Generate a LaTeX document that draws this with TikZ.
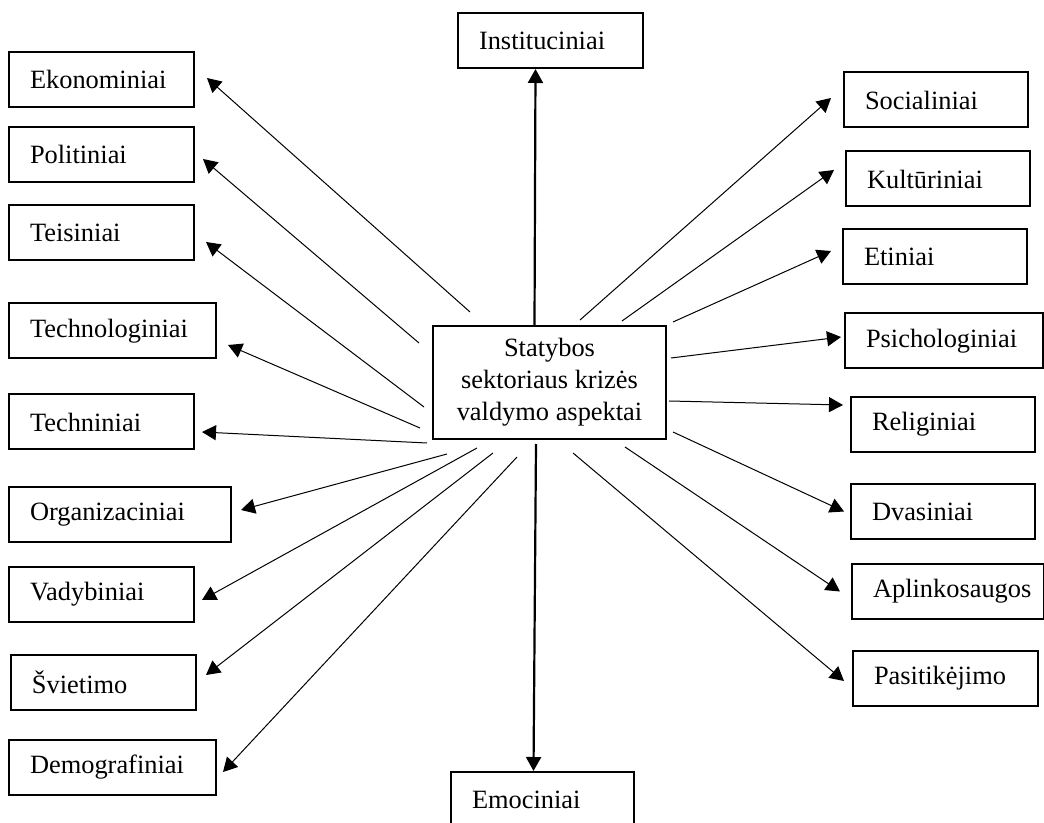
\documentclass[tikz,border=0pt]{standalone}
\usepackage{fontspec}
\setmainfont{Liberation Serif}
\usetikzlibrary{arrows.meta}

\begin{document}
\begin{tikzpicture}[x=0.5pt, y=-0.5pt,
    aspect/.style={draw, line width=1pt, anchor=west, minimum height=27.5pt, inner xsep=10.5pt, inner ysep=0pt,
        text width=#1, align=left, font=\fontsize{13.2}{16}\selectfont},
    link/.style={line width=0.5pt, -{Triangle[length=7pt,width=7.5pt]}},
    mainlink/.style={line width=1.1pt, -{Triangle[length=7pt,width=7.5pt]}}]
    \useasboundingbox (0,0) rectangle (1044,823);

    \node [draw, line width=1pt, minimum width=116.5pt, minimum height=56.5pt, align=center,
        font=\fontsize{13.2}{16}\selectfont] (hub) at (549.5,382.5) {Statybos\\sektoriaus krizės\\valdymo aspektai};

    % left column
    \node [aspect=71.5pt] (ekon) at (8,79.5) {Ekonominiai};
    \node [aspect=71.5pt] (polit) at (8,154.5) {Politiniai};
    \node [aspect=71.5pt] (teis) at (8,233) {Teisiniai};
    \node [aspect=82.5pt] (technol) at (8,331) {Technologiniai};
    \node [aspect=71.5pt] (techn) at (8,422) {Techniniai};
    \node [aspect=90pt] (organ) at (8,514.5) {Organizaciniai};
    \node [aspect=71.5pt] (vadyb) at (8,594.5) {Vadybiniai};
    \node [aspect=71.5pt] (sviet) at (10,682.5) {Švietimo};
    \node [aspect=82.5pt] (demogr) at (8,767.5) {Demografiniai};

    % right column
    \node [aspect=71pt] (social) at (843,100) {Socialiniai};
    \node [aspect=71pt] (kult) at (845,179) {Kultūriniai};
    \node [aspect=71pt] (etin) at (842,256.5) {Etiniai};
    \node [aspect=78pt] (psich) at (844,341) {Psichologiniai};
    \node [aspect=71pt] (relig) at (850,424.5) {Religiniai};
    \node [aspect=71pt] (dvas) at (850,511.5) {Dvasiniai};
    \node [aspect=75pt] (aplink) at (851,591.5) {Aplinkosaugos};
    \node [aspect=71.5pt] (pasit) at (852,678) {Pasitikėjimo};

    \node [aspect=71.5pt] (inst) at (457,40.5) {Instituciniai};
    \node [aspect=70.5pt] (emoc) at (450,799.5) {Emociniai};

    \draw [mainlink] ([xshift=-7.5]hub.north) -- ([xshift=-7.5]inst.south);
    \draw [mainlink] ([shift={(-13.5,4)}]hub.south) -- ([xshift=-4.5]emoc.north);

    \draw [link] ([shift={(-79.5,-13)}]hub.north) -- ([shift={(12,-1.5)}]ekon.east);
    \draw [link] ([shift={(-13,-39.5)}]hub.west) -- ([shift={(8,4.5)}]polit.east);
    \draw [link] ([shift={(-8,24.5)}]hub.west) -- ([shift={(11,9)}]teis.east);
    \draw [link] ([shift={(-12,45.5)}]hub.west) -- ([shift={(11,14)}]technol.east);
    \draw [link] ([shift={(-5,60.5)}]hub.west) -- ([shift={(7,10)}]techn.east);
    \draw [link] ([shift={(-102.5,14)}]hub.south) -- ([shift={(9,-4.5)}]organ.east);
    \draw [link] ([shift={(-72.5,8)}]hub.south) -- ([shift={(7,5.5)}]vadyb.east);
    \draw [link] ([shift={(-56.5,13)}]hub.south) -- ([shift={(9,-7.5)}]sviet.east);
    \draw [link] ([shift={(-32.5,17)}]hub.south) -- ([shift={(6,4.5)}]demogr.east);

    \draw [link] ([shift={(30.5,-5)}]hub.north) -- ([shift={(-12,-2)}]social.west);
    \draw [link] ([shift={(72.5,-4)}]hub.north) -- ([shift={(-11,-9)}]kult.west);
    \draw [link] ([shift={(6,-60.5)}]hub.east) -- ([shift={(-11,-5.5)}]etin.west);
    \draw [link] ([shift={(4,-24.5)}]hub.east) -- ([shift={(-3,-4)}]psich.west);
    \draw [link] ([shift={(2,18.5)}]hub.east) -- ([shift={(-7,-19.5)}]relig.west);
    \draw [link] ([shift={(6,49.5)}]hub.east) -- ([shift={(-6,0)}]dvas.west);
    \draw [link] ([shift={(75.5,7)}]hub.south) -- ([shift={(-11,0)}]aplink.west);
    \draw [link] ([shift={(23.5,13)}]hub.south) -- ([shift={(-8,3)}]pasit.west);
\end{tikzpicture}
\end{document}
